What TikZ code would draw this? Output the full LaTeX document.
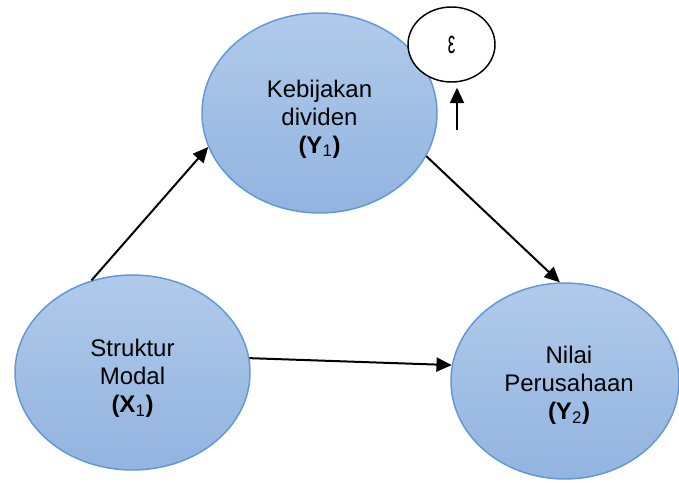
\documentclass[tikz,border=0pt]{standalone}
\usepackage{fontspec}
\usepackage{graphicx}
\setmainfont{Liberation Sans}
\usetikzlibrary{shapes.geometric,arrows.meta,calc}
\definecolor{fillTop}{RGB}{176,202,234}
\definecolor{fillBot}{RGB}{146,180,224}
\definecolor{edgeBlue}{RGB}{98,152,212}
\tikzset{
  var/.style={ellipse, draw=edgeBlue, line width=1.1pt, top color=fillTop, bottom color=fillBot,
    inner sep=0pt},
  lbl/.style={align=center, font=\fontsize{18}{21}\selectfont},
  errnode/.style={ellipse, draw=black, line width=1.1pt, fill=white, inner sep=0pt,
    minimum width=65.25pt, minimum height=56.25pt, font=\fontsize{18}{20}\selectfont},
  arr/.style={line width=1.5pt, -{Triangle[length=11.5pt,width=10.5pt]}}
}
\begin{document}
\begin{tikzpicture}[x=0.75pt,y=-0.75pt]
\useasboundingbox (0,0) rectangle (679,483);
\node[var, minimum width=176.25pt, minimum height=150pt,
  label={[lbl, yshift=-4.5pt]center:{Kebijakan\\dividen\\\textbf{(Y}\textsubscript{1}\textbf{)}}}] (y1) at (319.5,113) {};
\node[errnode] (eps) at (451.5,44.5) {\raisebox{-1pt}{\scalebox{0.7}[1.35]{ε}}};
\node[var, minimum width=176.25pt, minimum height=146.25pt,
  label={[lbl, yshift=-4.5pt]center:{Struktur\\Modal\\\textbf{(X}\textsubscript{1}\textbf{)}}}] (x1) at (132.5,372.5) {};
\node[var, minimum width=171pt, minimum height=147pt,
  label={[lbl, yshift=-3pt, xshift=3pt]center:{Nilai\\Perusahaan\\\textbf{(Y}\textsubscript{2}\textbf{)}}}] (y2) at (565,381) {};
\coordinate (e0) at (457,130);
\draw[arr] (x1.114.5) -- (y1.197.4);
\draw[arr] (y1.338.7) -- (y2.93);
\draw[arr] (x1.7.8) -- (y2.172.7);
\draw[arr, shorten >=3.75pt] (e0) -- (eps.south -| e0);
\end{tikzpicture}
\end{document}
